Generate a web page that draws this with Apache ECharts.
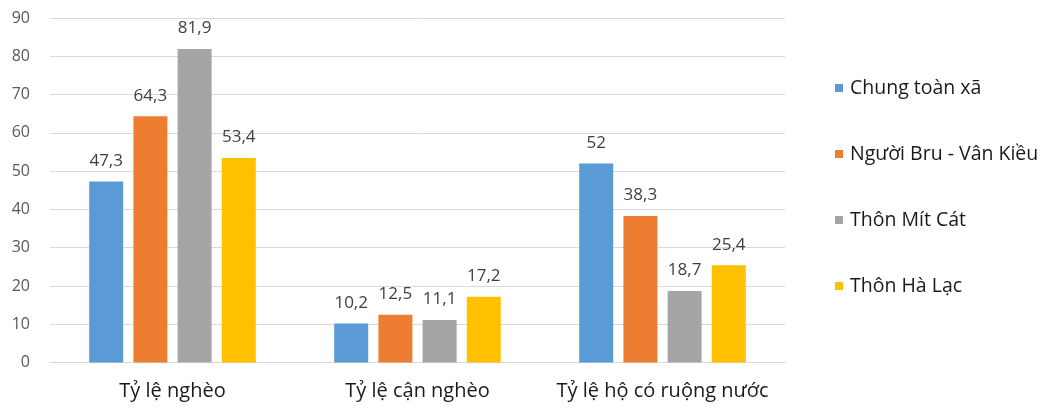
<!DOCTYPE html>
<html><head><meta charset="utf-8">
<script src="https://cdn.jsdelivr.net/npm/echarts@6/dist/echarts.min.js"></script>
<style>html,body{margin:0;padding:0;background:#fff}#c{width:1052px;height:414px}</style>
</head><body><div id="c"></div>
<script>
const categories = ['Tỷ lệ nghèo', 'Tỷ lệ cận nghèo', 'Tỷ lệ hộ có ruộng nước'];
const seriesNames = ['Chung toàn xã', 'Người Bru - Vân Kiều', 'Thôn Mít Cát', 'Thôn Hà Lạc'];
const chungToanXa = [47.3, 10.2, 52];
const nguoiBru = [64.3, 12.5, 38.3];
const thonMitCat = [81.9, 11.1, 18.7];
const thonHaLac = [53.4, 17.2, 25.4];
const colors = ['#5B9BD5', '#ED7D31', '#A5A5A5', '#FFC000'];
const FONT = '"Open Sans", "Noto Sans", sans-serif';

const chart = echarts.init(document.getElementById('c'), null, {renderer: 'canvas'});
const data = [chungToanXa, nguoiBru, thonMitCat, thonHaLac];
chart.setOption({
  animation: false,
  textStyle: {fontFamily: FONT},
  grid: {left: 50, right: 267, top: 18, bottom: 51.5, containLabel: false},
  legend: {
    orient: 'vertical', left: 830, top: 73, itemGap: 46,
    icon: 'rect', itemWidth: 8, itemHeight: 8,
    textStyle: {fontFamily: FONT, fontSize: 19.5, color: '#1a1a1a', padding: [0, 0, 0, 2]},
    data: seriesNames
  },
  xAxis: {
    type: 'category', data: categories,
    axisLine: {lineStyle: {color: '#d9d9d9'}}, axisTick: {show: false},
    axisLabel: {interval: 0, hideOverlap: false, fontFamily: FONT, fontSize: 20, color: '#1a1a1a', margin: 19}
  },
  yAxis: {
    type: 'value', min: 0, max: 90, interval: 10,
    axisLine: {show: false}, axisTick: {show: false},
    splitLine: {lineStyle: {color: '#d9d9d9'}},
    axisLabel: {fontFamily: FONT, fontSize: 16, color: '#595959', margin: 20}
  },
  series: seriesNames.map((n, i) => ({
    name: n, type: 'bar', data: data[i], barWidth: 34, barGap: '30%',
    itemStyle: {color: colors[i]},
    label: {show: true, position: 'top', distance: 12, fontFamily: FONT, fontSize: 17, color: '#404040',
      formatter: p => String(p.value).replace('.', ',')}
  }))
});
</script></body></html>
